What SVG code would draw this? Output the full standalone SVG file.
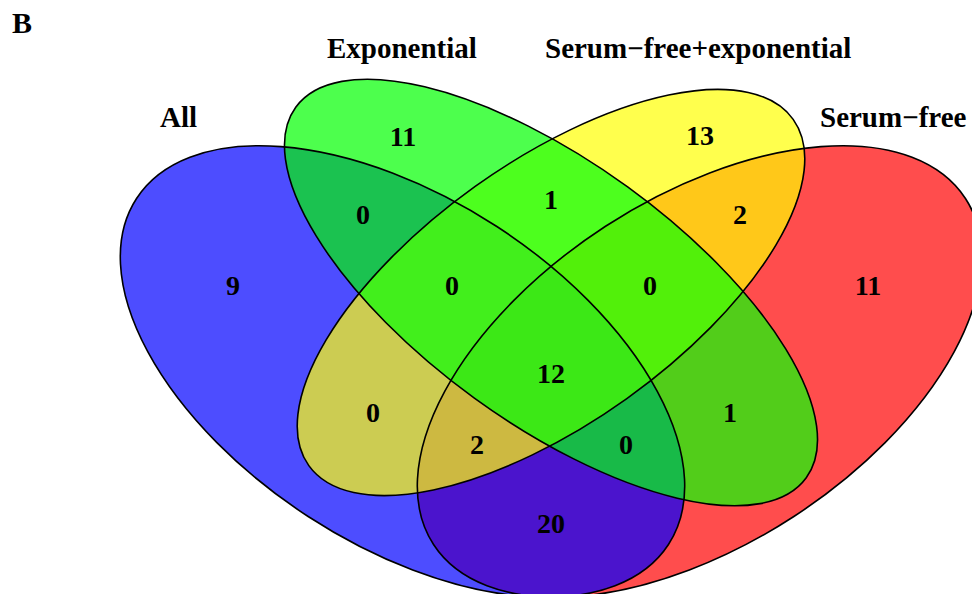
<svg xmlns="http://www.w3.org/2000/svg" width="972" height="594" viewBox="0 0 972 594">
<style>
.t{font-family:"Liberation Serif","Times New Roman",serif;font-weight:bold;fill:#000}
.lab{font-size:29px}
.n{font-size:28px;text-anchor:middle}
.ol{fill:none;stroke:#000;stroke-width:1.6}
</style>
<defs>
<ellipse id="eA" cx="402.5" cy="371.5" rx="317.3" ry="173" transform="rotate(33.05 402.5 371.5)"/>
<ellipse id="eB" cx="551" cy="292.5" rx="315.4" ry="130.5" transform="rotate(35.97 551 292.5)"/>
<ellipse id="eC" cx="551" cy="292.5" rx="297.7" ry="130.4" transform="rotate(-35.56 551 292.5)"/>
<ellipse id="eD" cx="699.5" cy="371.5" rx="317.3" ry="173" transform="rotate(-33.05 699.5 371.5)"/>
<clipPath id="cA"><ellipse cx="402.5" cy="371.5" rx="317.3" ry="173" transform="rotate(33.05 402.5 371.5)"/></clipPath>
<clipPath id="cB"><ellipse cx="551" cy="292.5" rx="315.4" ry="130.5" transform="rotate(35.97 551 292.5)"/></clipPath>
<clipPath id="cC"><ellipse cx="551" cy="292.5" rx="297.7" ry="130.4" transform="rotate(-35.56 551 292.5)"/></clipPath>
<clipPath id="cD"><ellipse cx="699.5" cy="371.5" rx="317.3" ry="173" transform="rotate(-33.05 699.5 371.5)"/></clipPath>
</defs>
<rect width="972" height="594" fill="#fff"/>
<g id="regions">
<use href="#eA" fill="#4d4dff"/>
<use href="#eB" fill="#4dff4d"/>
<use href="#eC" fill="#ffff4d"/>
<use href="#eD" fill="#ff4d4d"/>
<g clip-path="url(#cA)"><use href="#eB" fill="#1bc250"/></g>
<g clip-path="url(#cA)"><use href="#eC" fill="#cccc52"/></g>
<g clip-path="url(#cA)"><use href="#eD" fill="#4b14cd"/></g>
<g clip-path="url(#cB)"><use href="#eC" fill="#4dff1e"/></g>
<g clip-path="url(#cB)"><use href="#eD" fill="#52cd1a"/></g>
<g clip-path="url(#cC)"><use href="#eD" fill="#ffc819"/></g>
<g clip-path="url(#cA)"><g clip-path="url(#cB)"><use href="#eC" fill="#42ef1c"/></g></g>
<g clip-path="url(#cA)"><g clip-path="url(#cB)"><use href="#eD" fill="#18ba48"/></g></g>
<g clip-path="url(#cA)"><g clip-path="url(#cC)"><use href="#eD" fill="#cdb941"/></g></g>
<g clip-path="url(#cB)"><g clip-path="url(#cC)"><use href="#eD" fill="#52f00a"/></g></g>
<g clip-path="url(#cA)"><g clip-path="url(#cB)"><g clip-path="url(#cC)"><use href="#eD" fill="#3ce816"/></g></g></g>
</g>
<g id="set-all"><use href="#eA" class="ol"/><text class="t lab" x="160" y="127">All</text></g>
<g id="set-exponential"><use href="#eB" class="ol"/><text class="t lab" x="327" y="58">Exponential</text></g>
<g id="set-serumfree-exponential"><use href="#eC" class="ol"/><text class="t lab" x="545" y="58">Serum−free+exponential</text></g>
<g id="set-serumfree"><use href="#eD" class="ol"/><text class="t lab" x="820" y="127">Serum−free</text></g>
<g id="counts">
<text class="t n" x="233" y="295">9</text>
<text class="t n" x="403" y="146">11</text>
<text class="t n" x="700" y="145">13</text>
<text class="t n" x="868" y="295">11</text>
<text class="t n" x="363" y="224">0</text>
<text class="t n" x="551" y="209">1</text>
<text class="t n" x="740" y="224">2</text>
<text class="t n" x="452" y="295">0</text>
<text class="t n" x="650" y="295">0</text>
<text class="t n" x="551" y="383">12</text>
<text class="t n" x="373" y="422">0</text>
<text class="t n" x="730" y="422">1</text>
<text class="t n" x="477" y="454">2</text>
<text class="t n" x="626" y="454">0</text>
<text class="t n" x="551" y="533">20</text>
</g>
<text class="t" x="12" y="33" font-size="30">B</text>
</svg>
